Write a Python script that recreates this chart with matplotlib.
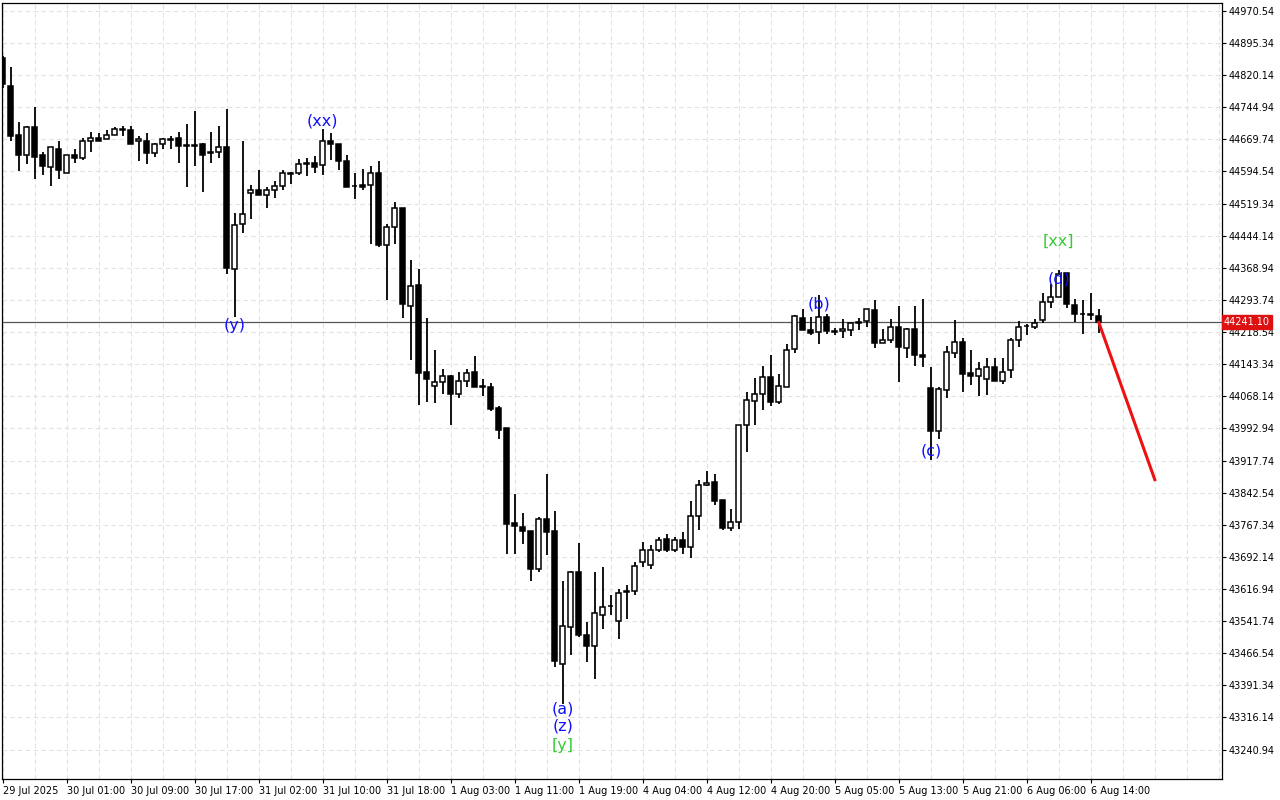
import matplotlib
matplotlib.use("Agg")
import matplotlib.pyplot as plt
import numpy as np

opens = [44860,44794,44679,44634,44698,44632,44606,44648,44592,44632,44627,44665,44674,44670,44681,44695,44691,44665,44667,44637,
         44660,44670,44672,44656,44656,44660,44637,44641,44651,44366,44472,44543,44550,44540,44550,44561,44589,44590,44614,44615,
         44609,44665,44658,44620,44561,44564,44564,44590,44423,44465,44510,44280,44329,44125,44092,44101,44115,44073,44103,44125,
         44092,44089,44040,43993,43772,43763,43753,43664,43781,43753,43441,43528,43657,43509,43483,43556,43577,43542,43612,43612,
         43680,43673,43708,43734,43708,43732,43716,43788,43861,43868,43826,43760,43774,44002,44056,44073,44113,44054,44089,44178,
         44251,44223,44218,44253,44221,44221,44223,44242,44244,44270,44193,44200,44230,44181,44225,44164,44087,43988,44082,44169,
         44195,44122,44115,44108,44136,44103,44129,44200,44233,44230,44246,44289,44301,44357,44282,44261,44261,44256]
highs = [44864,44839,44710,44700,44745,44639,44651,44667,44634,44648,44674,44688,44684,44691,44698,44702,44702,44677,44684,44662,
         44672,44677,44688,44705,44735,44662,44688,44700,44740,44498,44667,44564,44599,44559,44573,44599,44594,44623,44627,44630,
         44693,44684,44660,44632,44592,44601,44608,44620,44472,44522,44510,44388,44366,44251,44176,44132,44117,44125,44132,44162,
         44108,44099,44045,43993,43840,43796,43753,43786,43887,43800,43636,43659,43725,43539,43657,43668,43603,43617,43626,43680,
         43727,43720,43739,43746,43739,43751,43824,43871,43894,43887,43826,43805,44002,44078,44110,44139,44164,44120,44190,44258,
         44272,44253,44305,44260,44228,44249,44239,44251,44272,44294,44225,44249,44280,44228,44280,44296,44136,44089,44186,44247,
         44204,44176,44148,44157,44157,44157,44204,44244,44237,44249,44310,44331,44364,44357,44296,44294,44310,44272]
lows = [44789,44665,44595,44611,44578,44587,44561,44578,44592,44615,44622,44641,44667,44670,44681,44677,44660,44618,44611,44629,
        44646,44646,44615,44559,44608,44547,44615,44627,44354,44253,44451,44484,44540,44510,44533,44552,44566,44587,44585,44590,
        44587,44622,44597,44557,44531,44550,44425,44418,44294,44425,44251,44153,44047,44054,44052,44073,44000,44063,44089,44089,
        44068,44033,43969,43699,43699,43723,43636,43657,43697,43434,43347,43462,43504,43445,43407,43523,43556,43499,43546,43603,
        43669,43664,43704,43704,43704,43699,43690,43756,43857,43814,43756,43753,43758,43937,44002,44035,44045,44049,44089,44169,
        44223,44211,44190,44213,44211,44204,44209,44223,44230,44181,44193,44193,44101,44157,44139,44136,43920,43969,44063,44157,
        44078,44094,44068,44070,44103,44098,44112,44183,44211,44225,44239,44275,44301,44275,44242,44213,44246,44216]
closes = [44799,44677,44634,44698,44629,44608,44651,44599,44632,44627,44667,44674,44667,44681,44695,44691,44660,44670,44637,44660,
          44670,44668,44653,44653,44653,44632,44641,44651,44369,44470,44496,44550,44540,44550,44561,44590,44591,44611,44612,44606,
          44665,44658,44618,44559,44560,44559,44590,44423,44465,44510,44284,44327,44122,44108,44101,44115,44073,44103,44122,44089,
          44090,44038,43990,43770,43765,43753,43664,43781,43751,43448,43530,43657,43509,43483,43560,43575,43578,43607,43610,43671,
          43708,43708,43732,43708,43732,43716,43788,43861,43866,43824,43760,43774,44002,44059,44073,44113,44054,44092,44176,44256,
          44223,44216,44253,44221,44219,44225,44239,44240,44272,44193,44200,44230,44183,44225,44164,44160,43988,44085,44172,44195,
          44120,44115,44131,44136,44103,44126,44200,44230,44232,44239,44289,44301,44355,44284,44261,44260,44258,44241.10]

current_price = 44241.10
forecast_x = [137, 144]
forecast_y = [44241.10, 43873]

wave_labels = ["(xx)", "(y)", "(a)", "(z)", "[y]", "(b)", "(c)", "(d)", "[xx]"]
wave_x = [40, 29, 70, 70, 70, 102, 116, 132, 132]
wave_y = [44712, 44235, 43337, 43297, 43250, 44284, 43941, 44343, 44430]
wave_colors = ["#1010ff", "#1010ff", "#1010ff", "#1010ff", "#33cc33", "#1010ff", "#1010ff", "#1010ff", "#33cc33"]

ytick_vals = [43240.94, 43316.14, 43391.34, 43466.54, 43541.74, 43616.94, 43692.14, 43767.34, 43842.54, 43917.74,
              43992.94, 44068.14, 44143.34, 44218.54, 44293.74, 44368.94, 44444.14, 44519.34, 44594.54, 44669.74,
              44744.94, 44820.14, 44895.34, 44970.54]
xtick_labels = ["29 Jul 2025", "30 Jul 01:00", "30 Jul 09:00", "30 Jul 17:00", "31 Jul 02:00", "31 Jul 10:00",
                "31 Jul 18:00", "1 Aug 03:00", "1 Aug 11:00", "1 Aug 19:00", "4 Aug 04:00", "4 Aug 12:00",
                "4 Aug 20:00", "5 Aug 05:00", "5 Aug 13:00", "5 Aug 21:00", "6 Aug 06:00", "6 Aug 14:00"]

fig = plt.figure(figsize=(12.8, 8.0), dpi=100)
ax = fig.add_axes([2/1280, 21/800, 1220/1280, 776/800])
n = len(opens)
idx = np.arange(n)
o = np.array(opens); c = np.array(closes); h = np.array(highs); l = np.array(lows)

ax.vlines(idx, l, h, color="black", linewidth=1.3, zorder=3)
up = c >= o
bw = 0.62
ax.bar(idx[up], np.maximum(c[up]-o[up], 1.2), bottom=o[up], width=bw, color="white", edgecolor="black", linewidth=1.1, zorder=4)
ax.bar(idx[~up], np.maximum(o[~up]-c[~up], 1.2), bottom=c[~up], width=bw, color="black", edgecolor="black", linewidth=1.1, zorder=4)

ax.axhline(current_price, color="#555555", linewidth=0.9, zorder=2)
ax.plot(forecast_x, forecast_y, color="#ee1111", linewidth=2.2, zorder=5)

for t, xx, yy, col in zip(wave_labels, wave_x, wave_y, wave_colors):
    ax.text(xx, yy, t, color=col, fontsize=11.5, ha="center", va="center", zorder=6)

ax.set_xlim(-0.1, 152.4)
ax.set_ylim(43172, 44989)
ax.yaxis.tick_right()
ax.set_yticks(ytick_vals)
ax.set_yticklabels([f"{v:.2f}" for v in ytick_vals], fontsize=7)
ax.tick_params(axis="y", length=3, pad=2)
xt = np.arange(0, 8*len(xtick_labels), 8)
ax.set_xticks(xt)
ax.set_xticklabels(xtick_labels, fontsize=7, ha="left")
ax.tick_params(axis="x", length=3, pad=2)
ax.set_xticks(np.arange(0, 153, 4), minor=True)
ax.tick_params(axis="x", which="minor", length=0)
ax.grid(True, which="both", axis="x", color="#e2e2e2", linestyle=(0, (4, 3)), linewidth=0.8)
ax.grid(True, which="major", axis="y", color="#e2e2e2", linestyle=(0, (4, 3)), linewidth=0.8)
ax.set_axisbelow(True)
for s in ax.spines.values():
    s.set_color("black"); s.set_linewidth(0.9)

ax.text(1.0015, current_price, "44241.10", transform=ax.get_yaxis_transform(), fontsize=7, color="white",
        va="center", ha="left", bbox=dict(boxstyle="square,pad=0.2", fc="#dd1111", ec="#dd1111"), zorder=10)

fig.savefig("out.png", dpi=100)
